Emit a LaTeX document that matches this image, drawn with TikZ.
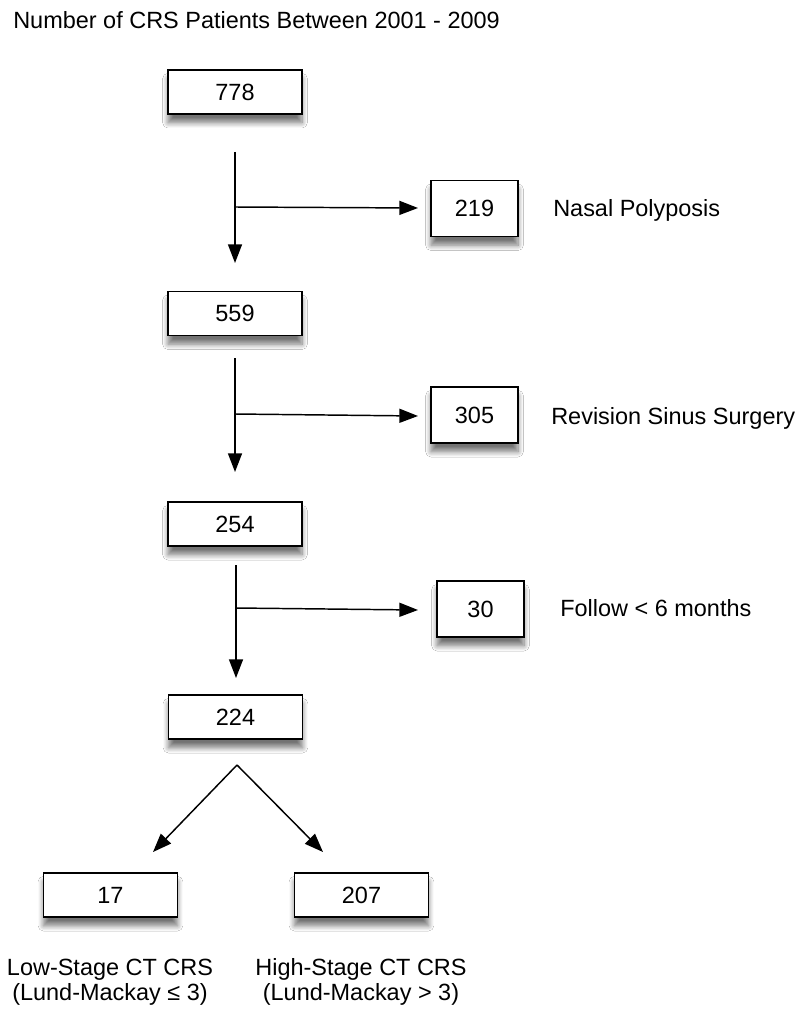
\documentclass[tikz,border=0pt]{standalone}
\usepackage{fontspec}
\setmainfont{Liberation Sans}
\usetikzlibrary{arrows.meta,shadows.blur}
\begin{document}
\begin{tikzpicture}[x=0.75pt,y=-0.75pt,
  font=\fontsize{17.6}{21}\selectfont,
  numbox/.style={draw=black, line width=1.1pt, fill=white, inner sep=0pt,
    minimum width=100.5pt, minimum height=33pt,
    blur shadow={shadow xshift=0pt, shadow yshift=-6.5pt, shadow blur radius=4pt, shadow blur steps=8, shadow opacity=55}},
  sidebox/.style={numbox, minimum width=65.25pt, minimum height=42pt},
  flow/.style={line width=1.1pt, -{Triangle[length=14pt,width=10.5pt]}},
  lbl/.style={anchor=base west, inner sep=0pt},
  clbl/.style={anchor=base, inner sep=0pt}]
\useasboundingbox (0,0) rectangle (800,1009);
\fill[white] (0,0) rectangle (800,1009);

\node[lbl] (title) at (13,29) {Number of CRS Patients Between 2001 - 2009};

% main column
\node[numbox] (n778) at (235,92) {778};
\node[numbox] (n559) at (235,313.5) {559};
\node[numbox] (n254) at (235,524) {254};
\node[numbox] (n224) at (235.5,717) {224};

% side boxes
\node[sidebox] (n219) at (474.5,208.5) {219};
\node[sidebox] (n305) at (474.5,415) {305};
\node[sidebox] (n30) at (480.5,609) {30};

% bottom boxes
\node[numbox] (n17) at (110.5,895) {17};
\node[numbox] (n207) at (361.5,895) {207};

% side labels
\node[lbl] (lnasal) at (553,216.5) {Nasal Polyposis};
\node[lbl] (lrev) at (551,424) {Revision Sinus Surgery};
\node[lbl] (lfol) at (560,616.5) {Follow < 6 months};

% bottom labels
\node[clbl] (low1) at (110,975) {Low-Stage CT CRS};
\node[clbl] (low2) at (110,1000) {(Lund-Mackay ≤ 3)};
\node[clbl] (high1) at (361,975) {High-Stage CT CRS};
\node[clbl] (high2) at (361,1000) {(Lund-Mackay > 3)};

% connectors
\coordinate (v1s) at (235,152);
\coordinate (v1e) at (235,263);
\coordinate (h1s) at (235,207);
\coordinate (h1e) at (418,208);
\coordinate (v2s) at (235,358);
\coordinate (v2e) at (235,472);
\coordinate (h2s) at (235,414);
\coordinate (h2e) at (418,416);
\coordinate (v3s) at (236,565);
\coordinate (v3e) at (236,678);
\coordinate (h3s) at (236,608);
\coordinate (h3e) at (418,610);
\coordinate (apex) at (237,765);
\coordinate (tipL) at (153,852);
\coordinate (tipR) at (323,852);

\draw[flow] (v1s) -- (v1e);
\draw[flow] (h1s) -- (h1e);
\draw[flow] (v2s) -- (v2e);
\draw[flow] (h2s) -- (h2e);
\draw[flow] (v3s) -- (v3e);
\draw[flow] (h3s) -- (h3e);
\draw[flow] (apex) -- (tipL);
\draw[flow] (apex) -- (tipR);
\end{tikzpicture}
\end{document}
